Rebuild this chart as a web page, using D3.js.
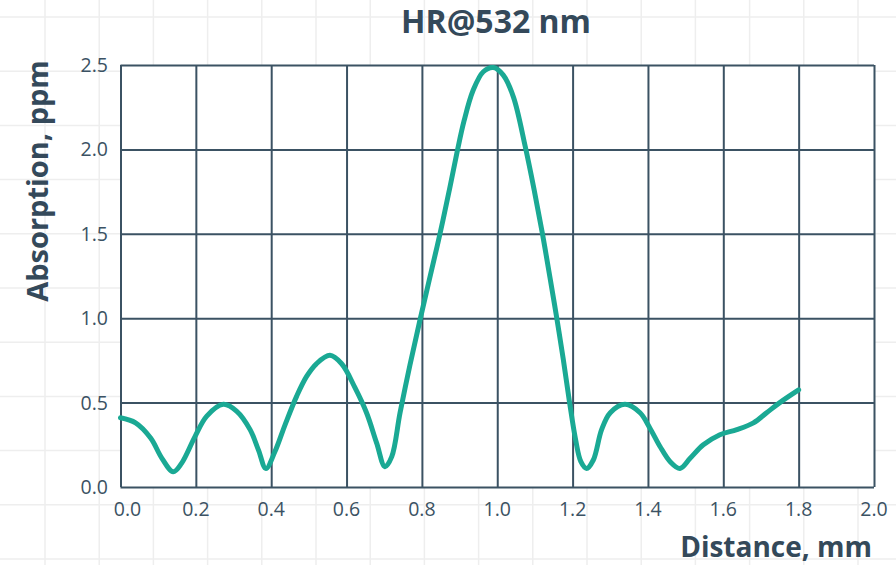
<!DOCTYPE html>
<html>
<head>
<meta charset="utf-8">
<script src="https://cdn.jsdelivr.net/npm/d3@7"></script>
<style>
  html, body { margin: 0; padding: 0; background: #fff; }
  svg { display: block; font-family: 'Open Sans', 'Noto Sans', sans-serif; }
</style>
</head>
<body>
<div class="svgContainer"></div>
<script>
// distance (mm) / absorption (ppm)
const DISTANCE = [0.00, 0.04, 0.08, 0.11, 0.14, 0.162, 0.198, 0.229, 0.273, 0.308, 0.344, 0.366, 0.386,
    0.41, 0.437, 0.468, 0.494, 0.52, 0.556, 0.587, 0.622, 0.653, 0.68, 0.702, 0.72, 0.742, 0.768,
    0.795, 0.822, 0.848, 0.872, 0.893, 0.912, 0.936, 0.963, 0.99, 1.016, 1.043, 1.074, 1.098, 1.12,
    1.14, 1.158, 1.175, 1.192, 1.208, 1.222, 1.237, 1.255, 1.277, 1.30, 1.339, 1.379, 1.405, 1.432,
    1.459, 1.485, 1.512, 1.547, 1.591, 1.636, 1.68, 1.715, 1.75, 1.80];
const ABSORPTION = [0.41, 0.38, 0.29, 0.17, 0.09, 0.14, 0.30, 0.42, 0.49, 0.45, 0.34, 0.22, 0.11,
    0.21, 0.37, 0.54, 0.655, 0.73, 0.78, 0.73, 0.59, 0.44, 0.26, 0.12, 0.18, 0.44, 0.72,
    0.99, 1.25, 1.50, 1.75, 1.98, 2.17, 2.35, 2.46, 2.485, 2.44, 2.31, 2.02, 1.76, 1.50,
    1.24, 1.00, 0.76, 0.50, 0.28, 0.15, 0.11, 0.16, 0.34, 0.44, 0.49, 0.44, 0.35, 0.24,
    0.15, 0.11, 0.17, 0.25, 0.31, 0.34, 0.38, 0.44, 0.50, 0.575];
const X_TICKS = [0, 0.2, 0.4, 0.6, 0.8, 1.0, 1.2, 1.4, 1.6, 1.8, 2.0];
const Y_TICKS = [0, 0.5, 1.0, 1.5, 2.0, 2.5];

const W = 896, H = 565;
const PLOT = { left: 120.5, right: 874, top: 65, bottom: 487 };
const INK = '#3b5263';
const CURVE = '#1aa994';

const svg = d3.select('.svgContainer')
    .append('svg')
    .attr('width', W)
    .attr('height', H);

// faint paper grid behind everything
const BG_STEP = 54.2;
svg.append('g')
    .selectAll('line')
    .data(d3.range(45, W, BG_STEP))
    .enter()
    .append('line')
    .attr('x1', d => d).attr('x2', d => d)
    .attr('y1', 0).attr('y2', H)
    .attr('stroke', '#eeeeee')
    .attr('stroke-width', 1.5);
svg.append('g')
    .selectAll('line')
    .data(d3.range(17, H, BG_STEP))
    .enter()
    .append('line')
    .attr('y1', d => d).attr('y2', d => d)
    .attr('x1', 0).attr('x2', W)
    .attr('stroke', '#eeeeee')
    .attr('stroke-width', 1.5);

const x = d3.scaleLinear().domain([0, 2]).range([PLOT.left, PLOT.right]);
const y = d3.scaleLinear().domain([0, 2.5]).range([PLOT.bottom, PLOT.top]);

// white plot area
svg.append('rect')
    .attr('x', x(0)).attr('y', y(2.5))
    .attr('width', x(2) - x(0))
    .attr('height', y(0) - y(2.5))
    .attr('fill', '#fff');

// grid lines via axes with full-length ticks
const xGrid = svg.append('g')
    .attr('transform', `translate(0, ${y(0)})`)
    .call(d3.axisBottom(x).tickValues(X_TICKS).tickSize(-(y(0) - y(2.5))).tickFormat(''));
const yGrid = svg.append('g')
    .attr('transform', `translate(${x(0)}, 0)`)
    .call(d3.axisLeft(y).tickValues(Y_TICKS).tickSize(-(x(2) - x(0))).tickFormat(''));
[xGrid, yGrid].forEach(g => {
    g.select('.domain').remove();
    g.selectAll('line').attr('stroke', INK).attr('stroke-width', 2);
});

// tick labels
svg.append('g')
    .selectAll('text')
    .data(X_TICKS)
    .enter()
    .append('text')
    .attr('x', d => x(d) + (d === 0 ? 7 : 0))
    .attr('y', 516)
    .attr('text-anchor', 'middle')
    .attr('fill', INK)
    .style('font-size', '19.5px')
    .text(d => d.toFixed(1));

svg.append('g')
    .selectAll('text')
    .data(Y_TICKS)
    .enter()
    .append('text')
    .attr('x', 108)
    .attr('y', d => y(d) + 7)
    .attr('text-anchor', 'end')
    .attr('fill', INK)
    .style('font-size', '19.5px')
    .text(d => d.toFixed(1));

// curve
const points = DISTANCE.map((d, i) => [d, ABSORPTION[i]]);
svg.append('path')
    .datum(points)
    .attr('d', d3.line().x(d => x(d[0])).y(d => y(d[1])).curve(d3.curveCatmullRom.alpha(0.5)))
    .attr('fill', 'none')
    .attr('stroke', CURVE)
    .attr('stroke-width', 5)
    .attr('stroke-linecap', 'round')
    .attr('stroke-linejoin', 'round');

// titles
svg.append('text')
    .attr('x', 496)
    .attr('y', 33)
    .attr('text-anchor', 'middle')
    .attr('fill', '#34495a')
    .style('font-size', '32px')
    .style('font-weight', 'bold')
    .text('HR@532 nm');

svg.append('text')
    .attr('transform', 'translate(48, 181) rotate(-90)')
    .attr('text-anchor', 'middle')
    .attr('fill', '#34495a')
    .style('font-size', '29px')
    .style('font-weight', 'bold')
    .text('Absorption, ppm');

svg.append('text')
    .attr('x', 872)
    .attr('y', 557)
    .attr('text-anchor', 'end')
    .attr('fill', '#34495a')
    .style('font-size', '28px')
    .style('font-weight', 'bold')
    .text('Distance, mm');
</script>
</body>
</html>
